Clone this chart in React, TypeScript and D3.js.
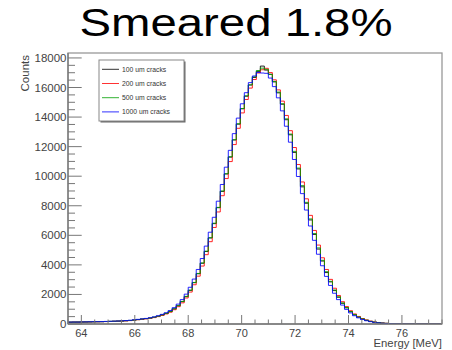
import React from "react";
import * as d3 from "d3";

const TITLE = "Smeared 1.8%";
const X_LABEL = "Energy [MeV]";
const Y_LABEL = "Counts";
const X_TICKS = [64, 66, 68, 70, 72, 74, 76];
const Y_TICKS = [0, 2000, 4000, 6000, 8000, 10000, 12000, 14000, 16000, 18000];
const BIN_LOW = 63.5;
const BIN_WIDTH = 0.15;

const SERIES_NAMES = ["100 um cracks", "200 um cracks", "500 um cracks", "1000 um cracks"];
const SERIES_COLORS = ["#000000", "#ff0000", "#00a000", "#0000ff"];

const counts100 = [122,131,127,138,135,146,150,158,154,170,176,188,195,207,221,238,268,302,330,362,398,455,522,610,712,838,1022,1230,1512,1850,2275,2795,3400,4110,4905,5820,6790,7870,8970,10150,11290,12450,13520,14560,15410,16170,16680,17090,17450,17180,16900,16380,15640,14870,13820,12800,11610,10490,9280,8170,7040,6060,5070,4260,3480,2850,2260,1810,1400,1095,828,620,468,338,250,176,124,90,58,42,28,18,12,8,5,3,2,1,0,0,0,0,0];
const counts200 = [118,126,133,129,141,139,152,149,160,163,172,180,191,199,212,230,251,290,318,352,385,432,500,580,680,800,965,1170,1430,1760,2160,2655,3235,3920,4690,5570,6530,7580,8680,9840,10990,12140,13240,14280,15190,15960,16540,16980,17200,17300,17010,16520,15840,15080,14110,13080,11940,10790,9610,8470,7350,6330,5340,4480,3690,3020,2420,1930,1510,1180,900,680,510,372,272,196,138,98,68,46,31,20,13,9,6,4,2,1,0,0,0,0,0];
const counts500 = [126,124,135,132,140,143,148,155,161,166,179,184,198,204,225,240,262,298,335,366,402,460,530,615,720,850,1030,1245,1525,1870,2290,2810,3420,4130,4930,5840,6820,7890,9000,10170,11320,12470,13550,14580,15440,16180,16720,17150,17310,17230,16880,16410,15690,14900,13880,12850,11680,10550,9360,8230,7110,6120,5150,4310,3540,2890,2300,1840,1425,1110,845,632,476,346,255,180,128,92,61,43,29,19,12,8,5,3,2,1,0,0,0,0,0];
const counts1000 = [128,133,131,140,142,149,155,157,163,174,182,192,201,214,232,252,283,315,345,378,422,482,558,652,762,912,1105,1345,1650,2020,2485,3040,3690,4430,5270,6210,7220,8310,9440,10610,11750,12880,13930,14900,15650,16330,16780,17020,16980,16960,16640,16060,15300,14420,13380,12300,11130,9980,8820,7710,6630,5660,4720,3940,3220,2610,2080,1650,1280,990,750,560,416,304,220,158,110,78,52,36,24,15,10,6,4,2,1,0,0,0,0,0,0];

const W = 452;
const H = 350;
const FL = 68, FR = 442, FT = 53, FB = 324;

export default function App() {
  const x = d3.scaleLinear().domain([63.5, 77.5]).range([FL, FR]);
  const y = d3.scaleLinear().domain([0, 18335]).range([FB, FT]);
  const allSeries = [counts100, counts200, counts500, counts1000];

  const stepPath = (vals: number[]) => {
    const p = d3.path();
    vals.forEach((v, i) => {
      const lo = BIN_LOW + i * BIN_WIDTH;
      const hi = lo + BIN_WIDTH;
      if (i === 0) p.moveTo(x(lo), y(v));
      else p.lineTo(x(lo), y(v));
      p.lineTo(x(hi), y(v));
    });
    return p.toString();
  };

  const xMinor = d3.range(63.5, 77.51, 0.5).filter((v) => !X_TICKS.includes(v));
  const yMinor = d3.range(500, 18335, 500).filter((v) => v % 2000 !== 0);
  const axisColor = "#777";
  const font = "'Liberation Sans', Arial, sans-serif";
  const legendTop = 60;
  const legendRow = 14.2;

  return (
    <svg width={W} height={H} style={{ display: "block", position: "absolute", left: 0, top: 0 }}>
      <rect x={0} y={0} width={W} height={H} fill="#fff" />
      <text x={236} y={35.5} textAnchor="middle" fontFamily="'Liberation Sans', Arial, sans-serif" fontSize={38} textLength={313} lengthAdjust="spacingAndGlyphs" fill="#000">{TITLE}</text>
      <defs>
        <clipPath id="frameClip">
          <rect x={FL} y={FT} width={FR - FL} height={FB - FT} />
        </clipPath>
      </defs>
      <rect x={FL} y={FT} width={FR - FL} height={FB - FT} fill="none" stroke="#999" strokeWidth={1.3} />
      <g clipPath="url(#frameClip)">
        {allSeries.map((s, i) => (
          <path key={i} d={stepPath(s)} fill="none" stroke={SERIES_COLORS[i]} strokeWidth={1} opacity={0.85} />
        ))}
      </g>
      {/* x axis */}
      <line x1={FL} x2={FR} y1={FB} y2={FB} stroke={axisColor} strokeWidth={1.3} />
      {X_TICKS.map((t) => (
        <g key={t}>
          <line x1={x(t)} x2={x(t)} y1={FB} y2={FB - 9} stroke={axisColor} />
          <text x={x(t)} y={336.5} textAnchor="middle" fontFamily={font} fontSize={11} fill="#444">{t}</text>
        </g>
      ))}
      {xMinor.map((t) => (
        <line key={t} x1={x(t)} x2={x(t)} y1={FB} y2={FB - 4.5} stroke={axisColor} />
      ))}
      <text x={FR} y={347} textAnchor="end" fontFamily={font} fontSize={11.3} fill="#444">{X_LABEL}</text>
      {/* y axis */}
      <line x1={FL} x2={FL} y1={FT} y2={FB} stroke={axisColor} strokeWidth={1.3} />
      {Y_TICKS.map((t) => (
        <g key={t}>
          <line x1={FL} x2={FL + 13.7} y1={y(t)} y2={y(t)} stroke={axisColor} />
          <text x={FL - 1.5} y={y(t) + 4} textAnchor="end" fontFamily={font} fontSize={11.5} fill="#444">{t}</text>
        </g>
      ))}
      {yMinor.map((t) => (
        <line key={t} x1={FL} x2={FL + 7} y1={y(t)} y2={y(t)} stroke={axisColor} />
      ))}
      <text transform={`translate(29,55) rotate(-90)`} textAnchor="end" fontFamily={font} fontSize={11.5} fill="#444">{Y_LABEL}</text>
      {/* legend */}
      <rect x={100.5} y={61.5} width={85} height={61} fill="#666" />
      <rect x={99} y={60} width={85} height={61} fill="#fff" stroke="#888" strokeWidth={1} />
      {SERIES_NAMES.map((n, i) => {
        const cy = legendTop + 9.3 + i * legendRow;
        return (
          <g key={n}>
            <line x1={102} x2={119} y1={cy} y2={cy} stroke={SERIES_COLORS[i]} strokeWidth={1} opacity={0.8} />
            <text x={122} y={cy + 2.5} fontFamily={font} fontSize={6.8} fill="#333">{n}</text>
          </g>
        );
      })}
    </svg>
  );
}
